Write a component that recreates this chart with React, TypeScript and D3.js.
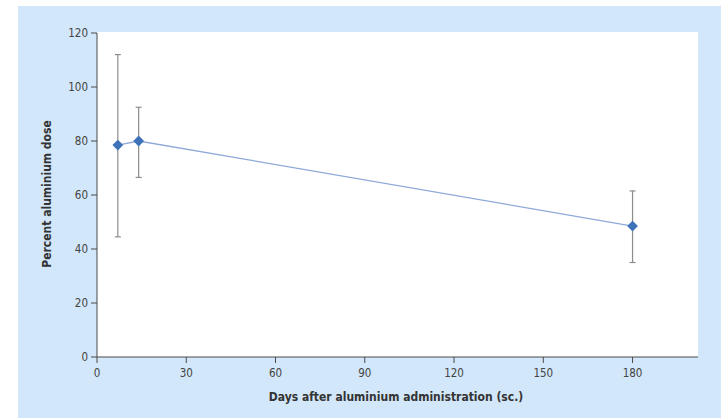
import React from "react";
import * as d3 from "d3";

const days = [7, 14, 180];
const means = [78.5, 80, 48.5];
const lows = [44.5, 66.5, 35];
const highs = [112, 92.5, 61.5];
const xTicks = [0, 30, 60, 90, 120, 150, 180];
const yTicks = [0, 20, 40, 60, 80, 100, 120];

const W = 721;
const H = 418;
const margin = { top: 33, right: 23, bottom: 61, left: 97 };
const font = "'Liberation Sans Narrow', 'DejaVu Sans Condensed', Arial, sans-serif";

const App = () => {
  const x = d3.scaleLinear().domain([0, 202]).range([margin.left, W - margin.right]);
  const y = d3.scaleLinear().domain([0, 120]).range([H - margin.bottom, margin.top]);

  const pts = days.map((d, i) => ({ d, m: means[i], lo: lows[i], hi: highs[i] }));
  const line = d3
    .line<{ d: number; m: number }>()
    .x((p) => x(p.d))
    .y((p) => y(p.m));
  // square turned 45 degrees, like the reference marker
  const diamond = d3.symbol(d3.symbolSquare, 58)();

  const axisColor = "#4a4a4a";

  return (
    <svg
      width={W}
      height={H}
      style={{ position: "absolute", left: 0, top: 0, display: "block" }}
    >
      <rect x={0} y={0} width={W} height={H} fill="#ffffff" />
      <rect x={18} y={6} width={W - 18} height={H - 6} fill="#d2e7f9" />
      <rect
        x={x(0)}
        y={y(120) - 1}
        width={x(202) - x(0)}
        height={y(0) - y(120) + 1}
        fill="#ffffff"
      />

      {/* y axis */}
      <line x1={x(0)} x2={x(0)} y1={y(120)} y2={y(0)} stroke={axisColor} strokeWidth={1} />
      {yTicks.map((t) => (
        <g key={"y" + t}>
          <line x1={x(0) - 6} x2={x(0)} y1={y(t)} y2={y(t)} stroke={axisColor} />
          <text
            x={x(0) - 9}
            y={y(t)}
            dy="0.35em"
            textAnchor="end"
            fontFamily={font}
            fontSize={11.5}
            fill="#444"
          >
            {t}
          </text>
        </g>
      ))}

      {/* x axis */}
      <line x1={x(0)} x2={x(202)} y1={y(0)} y2={y(0)} stroke={axisColor} strokeWidth={1} />
      {xTicks.map((t) => (
        <g key={"x" + t}>
          <line x1={x(t)} x2={x(t)} y1={y(0)} y2={y(0) + 6} stroke={axisColor} />
          <text
            x={x(t)}
            y={y(0) + 16}
            dy="0.35em"
            textAnchor="middle"
            fontFamily={font}
            fontSize={11.5}
            fill="#444"
          >
            {t}
          </text>
        </g>
      ))}

      <text
        x={396}
        y={397}
        dy="0.35em"
        textAnchor="middle"
        fontFamily={font}
        fontSize={12}
        fontWeight="bold"
        fill="#333"
      >
        Days after aluminium administration (sc.)
      </text>
      <text
        transform={`translate(47,${194}) rotate(-90)`}
        dy="0.35em"
        textAnchor="middle"
        fontFamily={font}
        fontSize={12}
        fontWeight="bold"
        fill="#333"
      >
        Percent aluminium dose
      </text>

      {/* error bars */}
      {pts.map((p) => (
        <g key={"e" + p.d} stroke="#8c8c8c" strokeWidth={1.2}>
          <line x1={x(p.d)} x2={x(p.d)} y1={y(p.lo)} y2={y(p.hi)} />
          <line x1={x(p.d) - 3} x2={x(p.d) + 3} y1={y(p.lo)} y2={y(p.lo)} />
          <line x1={x(p.d) - 3} x2={x(p.d) + 3} y1={y(p.hi)} y2={y(p.hi)} />
        </g>
      ))}

      <path d={line(pts) || ""} fill="none" stroke="#8fa9d9" strokeWidth={1.3} />

      {pts.map((p) => (
        <path
          key={"m" + p.d}
          d={diamond || ""}
          transform={`translate(${x(p.d)},${y(p.m)}) rotate(45)`}
          fill="#3f73b9"
        />
      ))}
    </svg>
  );
};

export default App;
